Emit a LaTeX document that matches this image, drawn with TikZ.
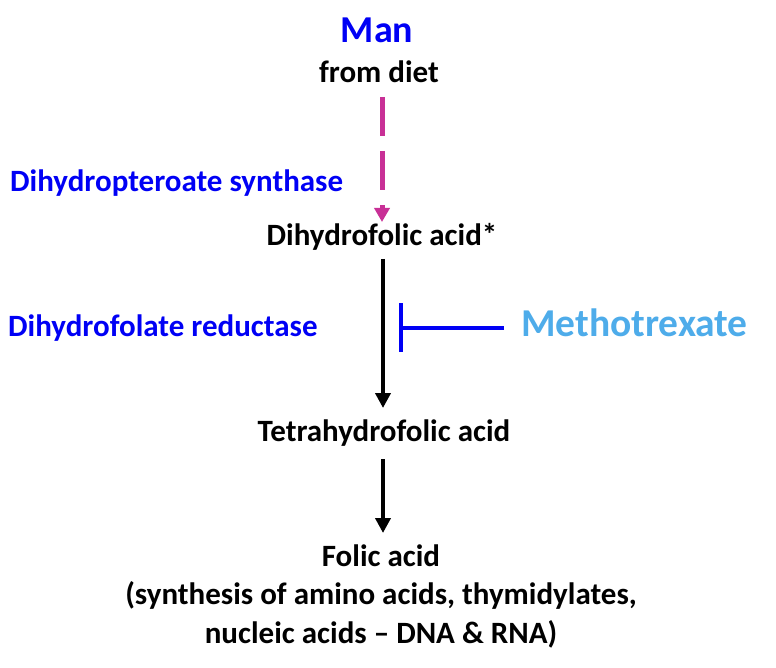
\documentclass[tikz,border=0pt]{standalone}
\usepackage{fontspec}
\setmainfont{Carlito}
\usetikzlibrary{arrows.meta}
\definecolor{pureblue}{RGB}{0,0,245}
\definecolor{lightblue}{RGB}{78,172,234}
\definecolor{magentaline}{RGB}{200,48,150}
\begin{document}
\begin{tikzpicture}[x=1pt,y=-1pt,
  txt/.style={inner sep=0pt,font=\bfseries\fontsize{31}{38.5}\selectfont},
  enz/.style={txt,text=pureblue,anchor=west},
  arr/.style={line width=4.5pt,-{Triangle[length=15pt,width=15pt]}}]
\useasboundingbox (0,0) rectangle (776,668);
\node[txt,text=pureblue,font=\bfseries\fontsize{38}{44}\selectfont] (man) at (377,30) {Man};
\node[txt] (diet) at (379,72) {from diet};
\node[enz] (dps) at (10,183) {Dihydropteroate synthase};
\node[txt] (dhf) at (382,237) {Dihydrofolic acid*};
\node[enz] (dfr) at (8,328) {Dihydrofolate reductase};
\node[txt,text=lightblue,anchor=west,font=\bfseries\fontsize{39.5}{46}\selectfont] (mtx) at (521,323) {Methotrexate};
\node[txt] (thf) at (384,433) {Tetrahydrofolic acid};
\node[txt,align=center] (fa) at (381,596) {Folic acid\\(synthesis of amino acids, thymidylates,\\nucleic acids -- DNA \& RNA)};
\coordinate (d1) at (382,97);
\coordinate (d2) at (382,222);
\draw[magentaline,line width=5pt,dash pattern=on 39pt off 15pt,-{Triangle[length=14pt,width=15pt]}] (d1) -- (d2);
\coordinate (a1) at (383,259);
\coordinate (a2) at (383,408);
\draw[arr] (a1) -- (a2);
\coordinate (b1) at (383,459);
\coordinate (b2) at (383,533);
\draw[arr] (b1) -- (b2);
\coordinate (i1) at (504,328);
\coordinate (i2) at (401,328);
\draw[pureblue,line width=4pt] (i1) -- (i2);
\draw[pureblue,line width=4pt] (401,303) -- (401,352);
\end{tikzpicture}
\end{document}
